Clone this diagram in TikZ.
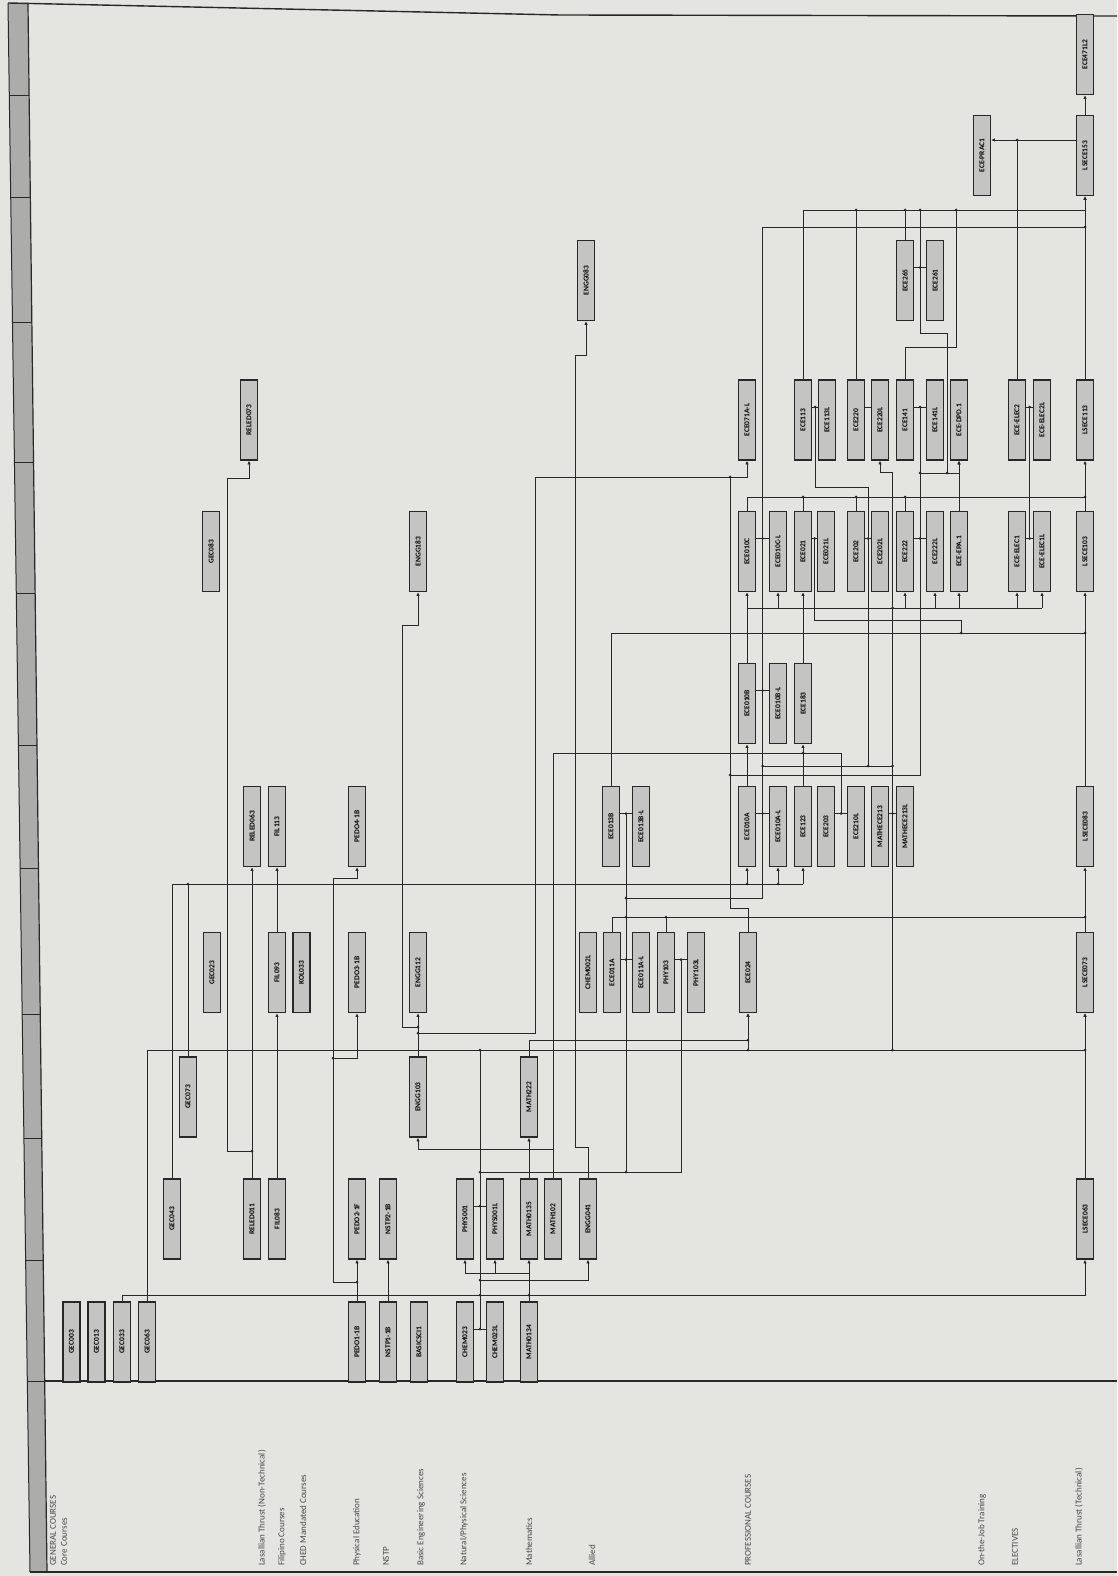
\documentclass[tikz,border=0pt]{standalone}
\usepackage{fontspec}
\setmainfont{Carlito}
\usepackage{graphicx}
\usetikzlibrary{arrows.meta,calc}
\definecolor{paper}{RGB}{228,229,225}
\definecolor{boxfill}{RGB}{196,197,195}
\definecolor{ink}{RGB}{40,40,40}
\definecolor{stripgray}{RGB}{172,172,170}
\tikzset{
    box/.style={
        rectangle,
        draw=ink,
        line width=1.2pt,
        fill=boxfill,
        minimum width=17pt,
        minimum height=80pt,
        inner sep=0pt,
        font=\fontsize{7.5}{8}\selectfont\bfseries
    },
    conn/.style={
        draw=ink,
        line width=0.8pt
    },
    pre/.style={
        conn,
        -{Latex[length=3.8pt,width=3.4pt]}
    },
    lbl/.style={
        rotate=90,
        anchor=west,
        inner sep=0pt,
        text=ink!85,
        font=\fontsize{9}{10}\selectfont
    }
}
\newcommand{\course}[4]{\node[box] (#1) at (#2,#3) {\rotatebox{90}{#4}};}
\newcommand{\pairlink}[2]{\draw[conn] ([yshift=13pt]#1.east) -- ([yshift=13pt]#2.west);}
\newcommand{\jdot}[1]{\fill[ink] (#1) circle (1.5pt);}

\begin{document}
\begin{tikzpicture}[x=1pt,y=-1pt]
\useasboundingbox (0,0) rectangle (1117,1576);
\fill[paper] (0,0) rectangle (1117,1576);

% term column and frame
\fill[stripgray] (8,3) -- (28,4) -- (47,1572) -- (30,1572) -- cycle;
\begin{scope}
\clip (8,3) -- (28,4) -- (47,1572) -- (30,1572) -- cycle;
\foreach \yy in {95,197,322,462,593,745,868,1014,1138,1260,1381}
    \draw[ink, line width=0.6pt] (0,\yy) -- (60,\yy);
\end{scope}
\draw[ink, line width=1.4pt] (8,3) -- (560,15) -- (1117,16);
\draw[ink, line width=1pt] (8,3) -- (30,1572);
\draw[ink, line width=1.2pt] (28,4) -- (47,1572);
\draw[ink, line width=1.2pt] (45,1381) -- (1117,1381);
\draw[ink, line width=1.2pt] (30,1572) -- (1117,1572);

% row labels
\node[lbl] at (53,1566) {GENERAL COURSES};
\node[lbl] at (64,1566) {Core Courses};
\node[lbl] at (262,1566) {Lasallian Thrust (Non-Technical)};
\node[lbl] at (282,1566) {Filipino Courses};
\node[lbl] at (303,1566) {CHED Mandated Courses};
\node[lbl] at (357,1566) {Physical Education};
\node[lbl] at (386,1566) {NSTP};
\node[lbl] at (421,1566) {Basic Engineering Sciences};
\node[lbl] at (464,1566) {Natural/Physical Sciences};
\node[lbl] at (529,1566) {Mathematics};
\node[lbl] at (592,1566) {Allied};
\node[lbl] at (748,1566) {PROFESSIONAL COURSES};
\node[lbl] at (982,1566) {On-the-Job Training};
\node[lbl] at (1015,1566) {ELECTIVES};
\node[lbl] at (1079,1566) {Lasallian Thrust (Technical)};

% term 1
\course{gecA}{71.5}{1342}{GEC003}
\course{gecB}{96.5}{1342}{GEC013}
\course{gecC}{122}{1342}{GEC033}
\course{gecD}{147}{1342}{GEC063}
\course{pedoA}{357}{1342}{PEDO1-1B}
\course{nstpA}{388}{1342}{NSTP1-1B}
\course{sciA}{419}{1342}{BASICSCI1}
\course{chemA}{465}{1342}{CHEM023}
\course{chemAl}{495}{1342}{CHEM023L}
\course{mathA}{529}{1342}{MATH0134}
% term 2
\course{gecE}{172}{1219}{GEC043}
\course{reledA}{252}{1219}{RELED011}
\course{filA}{277}{1219}{FIL083}
\course{pedoB}{357}{1219}{PEDO2-1F}
\course{nstpB}{388}{1219}{NSTP2-1B}
\course{physA}{465}{1219}{PHYS001}
\course{physAl}{495}{1219}{PHYS001L}
\course{mathB}{529}{1219}{MATH0135}
\course{mathC}{553}{1219}{MATH102}
\course{engA}{588}{1219}{ENGG041}
\course{lsA}{1085}{1219}{LSECE063}
% term 3
\course{gecF}{188}{1097}{GEC073}
\course{engB}{418}{1097}{ENGG103}
\course{mathD}{529}{1097}{MATH222}
% term 4
\course{gecG}{212}{972.5}{GEC023}
\course{filB}{277}{972.5}{FIL093}
\course{kolA}{301.5}{972.5}{KOL033}
\course{pedoC}{357}{972.5}{PEDO3-1B}
\course{engC}{418}{972.5}{ENGG112}
\course{chemB}{588}{972.5}{CHEM002L}
\course{eceA}{612}{972.5}{ECE011A}
\course{eceAl}{641}{972.5}{ECE011A-L}
\course{phyB}{666}{972.5}{PHY103}
\course{phyBl}{696}{972.5}{PHY103L}
\course{eceB}{748}{972.5}{ECE024}
\course{lsB}{1085}{972.5}{LSECE073}
% term 5
\course{reledB}{252}{826.5}{RELED063}
\course{filC}{277}{826.5}{FIL113}
\course{pedoD}{357}{826.5}{PEDO4-1B}
\course{eceC}{611}{826.5}{ECE013B}
\course{eceCl}{641}{826.5}{ECE013B-L}
\course{eceD}{747}{826.5}{ECE010A}
\course{eceDl}{778}{826.5}{ECE010A-L}
\course{eceH}{803}{826.5}{ECE123}
\course{eceI}{826}{826.5}{ECE203}
\course{eceIl}{856}{826.5}{ECE210L}
\course{mathE}{880}{826.5}{MATHECE213}
\course{mathEl}{905}{826.5}{MATHECE213L}
\course{lsC}{1085}{826.5}{LSECE083}
% term 6
\course{eceE}{747}{703.5}{ECE010B}
\course{eceEl}{778}{703.5}{ECE010B-L}
\course{eceJ}{803}{703.5}{ECE183}
% term 7
\course{gecH}{211}{551.5}{GEC083}
\course{engD}{418}{551.5}{ENGG183}
\course{eceF}{747}{551.5}{ECE010C}
\course{eceFl}{778}{551.5}{ECE010C-L}
\course{eceK}{803}{551.5}{ECE021}
\course{eceKl}{826}{551.5}{ECE021L}
\course{eceL}{856}{551.5}{ECE202}
\course{eceLl}{880}{551.5}{ECE202L}
\course{eceM}{905}{551.5}{ECE222}
\course{eceMl}{935}{551.5}{ECE222L}
\course{epaA}{959}{551.5}{ECE-EPA.1}
\course{elecA}{1017}{551.5}{ECE-ELEC1}
\course{elecAl}{1042}{551.5}{ECE-ELEC1L}
\course{lsD}{1085}{551.5}{LSECE103}
% term 8
\course{reledC}{249}{420}{RELED073}
\course{eceG}{747}{420}{ECE071A-L}
\course{eceN}{803}{420}{ECE113}
\course{eceNl}{827}{420}{ECE113L}
\course{eceO}{856}{420}{ECE220}
\course{eceOl}{880}{420}{ECE220L}
\course{eceP}{905}{420}{ECE141}
\course{ecePl}{935}{420}{ECE141L}
\course{dpdA}{959}{420}{ECE-DPD.1}
\course{elecB}{1017}{420}{ECE-ELEC2}
\course{elecBl}{1042}{420}{ECE-ELEC2L}
\course{lsE}{1085}{420}{LSECE113}
% term 9 to 11
\course{engE}{586}{280.5}{ENGG083}
\course{eceQ}{905}{280.5}{ECE265}
\course{eceQl}{935}{280.5}{ECE261}
\course{pracA}{982}{155.5}{ECE-PRAC1}
\course{lsF}{1085}{155.5}{LSECE153}
\course{lsG}{1085}{54.5}{ECE471L2}

% co-requisite pairs
\pairlink{chemA}{chemAl}
\pairlink{physA}{physAl}
\pairlink{eceA}{eceAl}
\pairlink{phyB}{phyBl}
\pairlink{eceC}{eceCl}
\pairlink{eceD}{eceDl}
\pairlink{eceI}{eceIl}
\pairlink{mathE}{mathEl}
\pairlink{eceE}{eceEl}
\pairlink{eceF}{eceFl}
\pairlink{eceK}{eceKl}
\pairlink{eceL}{eceLl}
\pairlink{eceM}{eceMl}
\pairlink{elecA}{elecAl}
\pairlink{eceN}{eceNl}
\pairlink{eceO}{eceOl}
\pairlink{eceP}{ecePl}
\pairlink{elecB}{elecBl}
\pairlink{eceQ}{eceQl}

% general courses
\draw[pre] (gecC.north) |- (1085,1295) -- (lsA.south);
\draw[pre] (gecD.north) |- (748,1050) -- (eceB.south);
\draw[pre] (748,1050) -| (lsB.south);
\draw[pre] (gecE.north) |- (747,884) -- (eceD.south);
\draw[conn] (747,884) -- (803,884);
\draw[pre] (778,884) -- (eceDl.south);
\draw[pre] (803,884) -- (eceH.south);
\draw[conn] (gecF.north) -- (188,884);
\draw[pre] (reledA.north) -- (reledB.south);
\draw[pre] (252,1151) -| (227,478) -| (reledC.south);
\draw[pre] (filA.north) -- (filB.south);
\draw[pre] (filB.north) -- (filC.south);
\draw[pre] (pedoA.north) -- (pedoB.south);
\draw[pre] (357,1282) -| (333,1058) -| (pedoC.south);
\draw[pre] (333,1058) |- (357,878) -- (pedoD.south);
\draw[pre] (nstpA.north) -- (nstpB.south);

% sciences and mathematics
\draw[conn] (480,1329) -- (480,1050);
\draw[pre] (480,1280) -| (engA.south);
\draw[pre] (mathA.north) -- (mathB.south);
\draw[pre] (529,1273) -| (physA.south);
\draw[pre] (529,1273) -| (physAl.south);
\draw[pre] (mathB.north) -- (mathD.south);
\draw[pre] (mathC.north) |- (418,1149) -- (engB.south);
\draw[conn] (553,1149) |- (841,753) -- (841,813.5);
\draw[pre] (mathD.north) |- (748,1040) -- (eceB.south);
\draw[conn] (480,1172) -| (681,959.5);
\draw[conn] (626,1172) -- (626,813.5);
\draw[conn] (626,898) -| (762.5,227) -- (1085,227);

% engineering sciences and allied
\draw[pre] (engB.north) -- (engC.south);
\draw[pre] (418,1027) -| (402,625) -| (engD.south);
\draw[pre] (418,1033) -| (535,477) -| (eceG.south);
\draw[pre] (engA.north) |- (575,1147) |- (586,355) -- (engE.south);
\draw[conn] (eceB.north) |- (730,908) -- (730,477);
\draw[conn] (730,775) -| (920,407);
\draw[conn] (920,473) -- (947,473) |- (920,333) -- (920,210);
\draw[pre] (947,473) -| (dpdA.south);

% professional courses
\draw[conn] (eceA.north) |- (1085,917);
\draw[conn] (phyB.north) -- (666,917);
\draw[conn] (eceC.north) |- (1085,633);
\draw[pre] (eceD.north) -- (eceE.south);
\draw[pre] (eceE.north) -- (eceF.south);
\draw[pre] (eceH.north) -- (eceJ.south);
\draw[pre] (eceJ.north) -- (eceK.south);
\draw[conn] (762.5,766) -- (892.5,766);
\draw[conn] (868,766) |- (815,487) -- (815,407);
\draw[pre] (892.5,1050) |- (880,472) -- (eceOl.south);
\draw[conn] (747,608) -- (1042,608);
\foreach \n in {eceFl,eceM,eceMl,epaA,elecA,elecAl}
    {\draw[pre] ([yshift=-16pt]\n.south) -- (\n.south);}
\draw[conn] (814.5,538.5) |- (961,620) -- (961,633);
\draw[conn] (eceF.north) |- (1085,497);
\foreach \n in {eceK,eceL,eceM}
    {\draw[conn] (\n.north) -- ([yshift=14.5pt]\n.north);}
\draw[pre] (eceN.north) |- (1085,210) -- (lsF.south);
\draw[conn] (eceO.north) -- (856,210);
\draw[conn] (eceQ.north) -- (905,210);
\draw[conn] (eceP.north) |- (956,347) -- (956,210);
\draw[pre] (epaA.north) -- (dpdA.south);
\draw[conn] (1029.5,538.5) -- (1029.5,407);
\draw[conn] (elecB.north) -- (1017,140);
\draw[pre] ([yshift=15.5pt]lsF.west) -- ([yshift=15.5pt]pracA.east);

% lasallian thrust (technical)
\draw[pre] (lsA.north) -- (lsB.south);
\draw[pre] (lsB.north) -- (lsC.south);
\draw[pre] (lsC.north) -- (lsD.south);
\draw[pre] (lsD.north) -- (lsE.south);
\draw[pre] (lsE.north) -- (lsF.south);
\draw[pre] (lsF.north) -- (lsG.south);

% junctions
\foreach \p in {{480,1329},{480,1206},{480,1295},{529,1295},{480,1280},{480,1172},
    {626,1172},{480,1050},{748,1050},{748,1040},{892.5,1050},{1085,1050},
    {357,1282},{333,1058},{252,1151},{418,1027},{418,1033},{188,884},{747,884},
    {778,884},{626,959.5},{681,959.5},{626,917},{666,917},{1085,917},{626,898},
    {626,813.5},{762.5,813.5},{762.5,690.5},{762.5,538.5},{841,813.5},{803,753},
    {892.5,813.5},{762.5,766},{868,766},{892.5,766},{730,775},{730,477},
    {892.5,608},{814.5,538.5},{868,538.5},{920,538.5},{1029.5,538.5},{1029.5,407},
    {815,407},{920,407},{920,473},{947,473},{920,267.5},{856,210},{905,210},
    {920,210},{956,210},{1085,227},{1085,497},{1085,633},{803,497},{856,497},
    {905,497},{1017,140},{961,633}}
    {\jdot{\p}}
\end{tikzpicture}
\end{document}
